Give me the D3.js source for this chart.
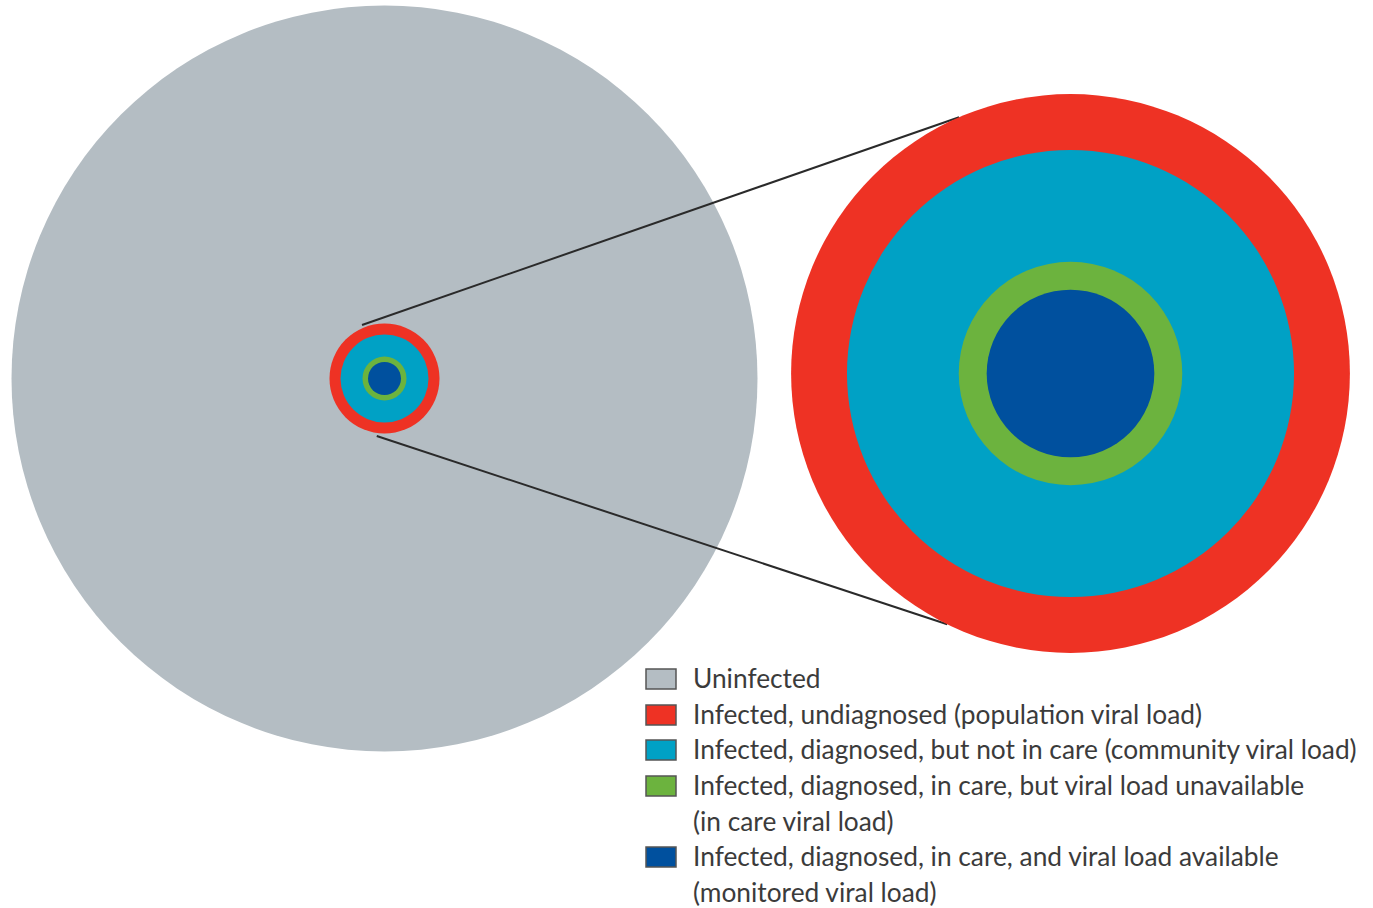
<!DOCTYPE html>
<html>
<head>
<meta charset="utf-8">
<script src="https://cdn.jsdelivr.net/npm/d3@7"></script>
<style>
  body { margin: 0; background: #fff; }
  .legendText { font-family: Lato, "Open Sans", sans-serif; font-size: 26.3px; fill: #3b3b3b; }
</style>
</head>
<body>
<div id="chart"></div>
<script>
var svgWidth = 1373;
var svgHeight = 908;

// Data: groups and their (notional) circle radii
var groups = ["Uninfected", "Infected, undiagnosed", "Infected, diagnosed, not in care", "Infected, in care, no viral load", "Infected, in care, viral load available"];
var radii = [373, 55, 44, 22, 16.5];
var colors = ["#b4bdc3", "#ee3224", "#00a1c5", "#6cb33e", "#00509e"];
var legendLines = [
  ["Uninfected"],
  ["Infected, undiagnosed (population viral load)"],
  ["Infected, diagnosed, but not in care (community viral load)"],
  ["Infected, diagnosed, in care, but viral load unavailable", "(in care viral load)"],
  ["Infected, diagnosed, in care, and viral load available", "(monitored viral load)"]
];

var svg = d3.select("#chart")
  .append("svg")
  .attr("width", svgWidth)
  .attr("height", svgHeight);

// scales for the whole view and for the zoomed-in view
var rScale = d3.scaleLinear().domain([0, 1]).range([0, 1]);
var zoomScale = d3.scaleLinear().domain([0, 1]).range([0, 5.08]);

var mainCenter = [384.5, 378.5];
var zoomCenter = [1070.5, 373.5];

// big gray circle + small inset
var mainGroup = svg.append("g")
  .attr("transform", `translate(${mainCenter[0]}, ${mainCenter[1]})`);

mainGroup.selectAll("circle")
  .data(radii)
  .enter()
  .append("circle")
  .attr("r", d => rScale(d))
  .attr("fill", (d, i) => colors[i]);

// connector lines (angles in degrees)
var connectors = [
  { a1: -112.8, a2: -113.5 },
  { a1: 97.7, a2: 116.2 }
];
var rad = Math.PI / 180;
svg.selectAll("line.connector")
  .data(connectors)
  .enter()
  .append("line")
  .attr("class", "connector")
  .attr("x1", d => mainCenter[0] + rScale(radii[1] + 3) * Math.cos(d.a1 * rad))
  .attr("y1", d => mainCenter[1] + rScale(radii[1] + 3) * Math.sin(d.a1 * rad))
  .attr("x2", d => zoomCenter[0] + zoomScale(radii[1]) * Math.cos(d.a2 * rad))
  .attr("y2", d => zoomCenter[1] + zoomScale(radii[1]) * Math.sin(d.a2 * rad))
  .attr("stroke", "#2a2a2a")
  .attr("stroke-width", 2);

// zoomed view (everything except the uninfected circle)
var zoomGroup = svg.append("g")
  .attr("transform", `translate(${zoomCenter[0]}, ${zoomCenter[1]})`);

zoomGroup.selectAll("circle")
  .data(radii.slice(1))
  .enter()
  .append("circle")
  .attr("r", d => zoomScale(d))
  .attr("fill", (d, i) => colors[i + 1]);

// Legend
var legendY = [679, 715, 750, 786, 857];
var legend = svg.append("g");

legend.selectAll("rect")
  .data(legendLines)
  .enter()
  .append("rect")
  .attr("x", 646)
  .attr("y", (d, i) => legendY[i] - 10)
  .attr("width", 30)
  .attr("height", 20)
  .attr("fill", (d, i) => colors[i])
  .attr("stroke", "#555")
  .attr("stroke-width", 1.5);

legendLines.forEach(function(lines, i) {
  lines.forEach(function(t, j) {
    legend.append("text")
      .attr("class", "legendText")
      .attr("x", 693)
      .attr("y", legendY[i] + j * 36)
      .attr("dy", "0.35em")
      .text(t);
  });
});
</script>
</body>
</html>
